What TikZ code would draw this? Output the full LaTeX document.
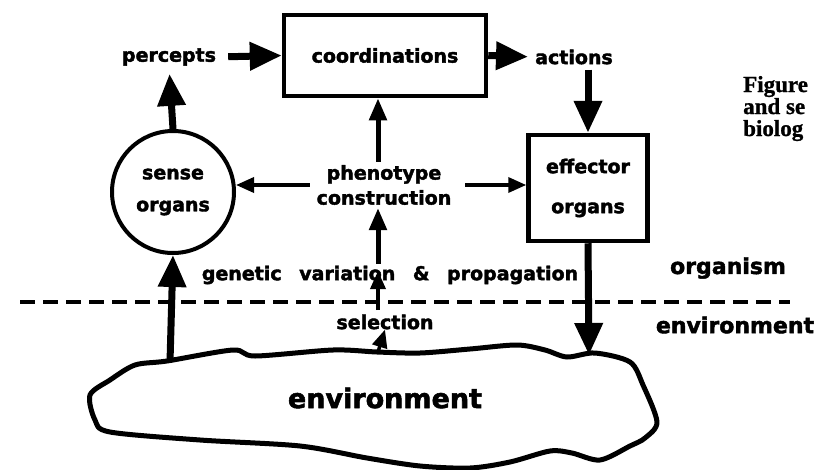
\documentclass[tikz,border=0pt]{standalone}
\usepackage{fontspec}
\setmainfont{DejaVu Sans}
\newfontfamily\lblfont[FakeBold=2]{DejaVu Sans}
\newfontfamily\capfont[FakeBold=1]{Liberation Serif}
\usetikzlibrary{arrows.meta,calc}
\tikzset{
  lbl/.style={font=\lblfont\bfseries\fontsize{19}{20}\selectfont, inner sep=0pt, align=center},
  sidelbl/.style={font=\lblfont\bfseries\fontsize{22}{24}\selectfont, inner sep=0pt},
  bignode/.style={font=\lblfont\bfseries\fontsize{27}{28}\selectfont, inner sep=0pt},
  capnode/.style={font=\capfont\bfseries\fontsize{23}{23}\selectfont, inner sep=0pt, anchor=base west},
  boxnode/.style={lbl, draw, line width=4.5pt},
  bigarrow/.style={line width=7pt, -{Triangle[length=32pt,width=27pt]}},
  medarrow/.style={line width=5pt, -{Triangle[length=22pt,width=17pt]}},
  thinarrow/.style={line width=3.5pt, -{Triangle[length=18pt,width=15pt]}},
  dashline/.style={line width=3.5pt, dash pattern=on 15pt off 8pt}
}
\begin{document}
\begin{tikzpicture}[x=1pt,y=-1pt]
\useasboundingbox (0,0) rectangle (817,469);
\clip (0,0) rectangle (817,469);
\fill[white] (0,0) rectangle (817,469);

\coordinate (spine) at (378,0);
\coordinate (b1) at (170,362);
\coordinate (b2) at (378,352);
\coordinate (b3) at (589,355);
\coordinate (dl) at (20,302);
\coordinate (dr) at (790,302);

% blob
\draw[line width=5pt, line join=round] plot[smooth cycle, tension=0.5] coordinates {
 (135,365) (167,361) (233,350) (255,356) (333,350) (377,352) (420,353) (470,349)
 (517,345) (545,350) (567,357) (595,353) (630,362) (643,385) (657,422) (645,438)
 (630,446) (600,460) (572,453) (550,451) (510,462) (470,468) (420,466) (367,458)
 (300,446) (200,440) (110,432) (95,420) (90,395) (110,380)};

\node[lbl] (perc) at (169,57) {percepts};
\node[boxnode, minimum width=202pt, minimum height=81pt] (coord) at (385,55.5) {coordinations};
\node[lbl] (act) at (574,57) {actions};
\node[boxnode, minimum width=119pt, minimum height=106pt] (eff) at (588,188) {effector\\[20pt]organs};
\node[lbl, draw, circle, line width=4pt, minimum size=122pt] (sense) at (173,192) {sense\\[12pt]organs};
\node[lbl] (pheno) at (384,185) {phenotype\\[5pt]construction};
\node[lbl] (gen) at (390,275) {genetic\hspace{11pt} variation\hspace{11pt} \&\hspace{11pt} propagation};
\node[lbl] (sel) at (385,322) {selection};
\node[sidelbl] (org) at (728,268) {organism};
\node[sidelbl] (envr) at (735,325) {environment};
\node[bignode] (envlbl) at (385,398) {environment};

\node[capnode] (cap1) at (743,92) {Figure};
\node[capnode] (cap2) at (743,114) {and se};
\node[capnode] (cap3) at (743,136) {biolog};

\draw[dashline] (dl) -- (dr);

\draw[bigarrow] (b1) -- (sense.south);
\draw[bigarrow, shorten >=8pt] (sense.north) -- (perc.south);
\draw[bigarrow, shorten <=12pt] (perc.east) -- (coord.west);
\draw[bigarrow, shorten >=7pt] (coord.east) -- (act.west);
\draw[bigarrow, shorten <=5pt] (eff.north |- act.south) -- (eff.north);
\draw[bigarrow] (eff.south) -- (b3);
\draw[medarrow, shorten <=3pt] (spine |- pheno.north) -- (spine |- coord.south);
\draw[thinarrow, shorten <=7pt] (pheno.west) -- (sense.east |- pheno.west);
\draw[thinarrow, shorten <=14pt] (pheno.east) -- (eff.west |- pheno.east);
\draw[medarrow, shorten <=2pt, shorten >=3pt] (spine |- gen.north) -- (spine |- pheno.south);
\draw[thinarrow, shorten <=-8pt, shorten >=-4pt] (dl -| spine) -- (spine |- gen.center);
\draw[thinarrow] (b2) -- (sel.south);
\end{tikzpicture}
\end{document}
